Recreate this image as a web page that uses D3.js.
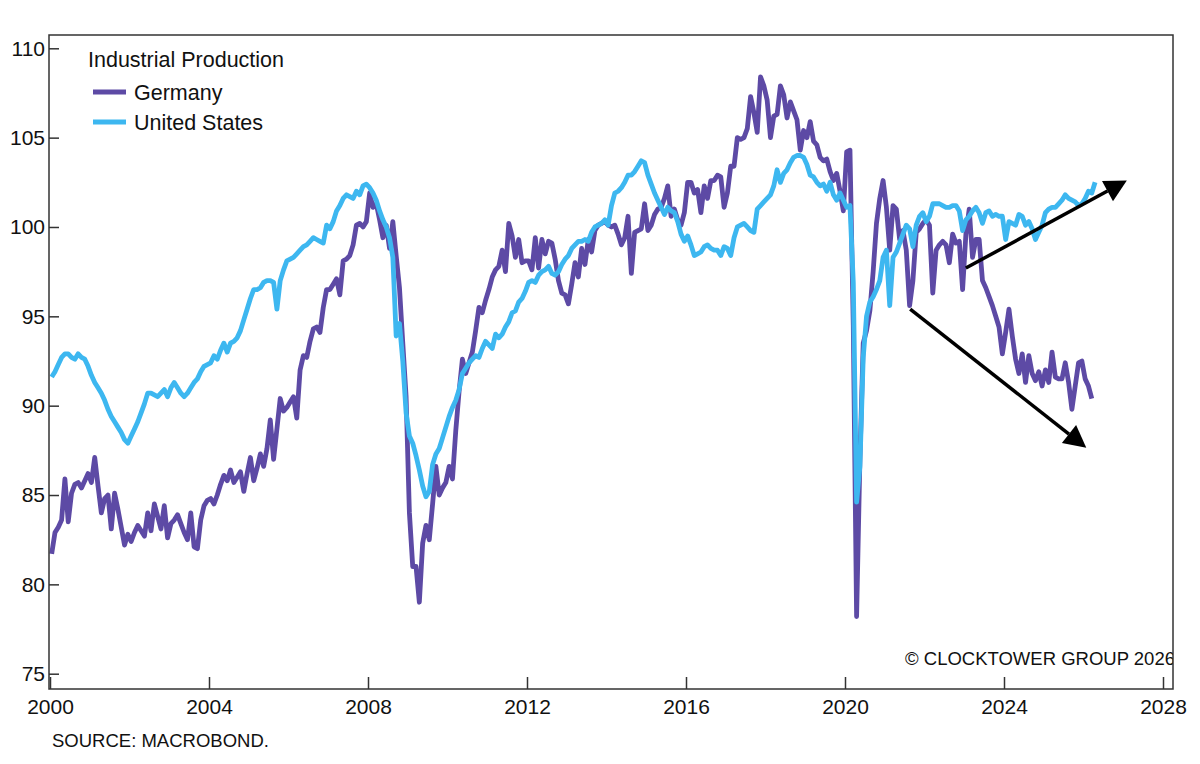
<!DOCTYPE html>
<html>
<head>
<meta charset="utf-8">
<title>Industrial Production</title>
<script src="https://cdn.jsdelivr.net/npm/d3@7"></script>
<style>
    html, body { margin: 0; padding: 0; background: #fff; }
    svg { display: block; font-family: "Liberation Sans", Arial, Helvetica, sans-serif; }
</style>
</head>
<body>
<svg id="chart" width="1200" height="764"></svg>
<script>
// Monthly index values, Jan 2000 onwards (one row per year).
let startYear = 2000;

let germany = [
    81.7, 82.9, 83.2, 83.6, 85.9, 83.5, 85.1, 85.6, 85.7, 85.4, 85.8, 86.2,
    85.7, 87.1, 85.5, 84.0, 84.8, 85.0, 83.1, 85.1, 84.2, 83.2, 82.2, 82.8,
    82.4, 82.9, 83.3, 83.0, 82.7, 84.0, 83.0, 84.5, 83.8, 83.1, 84.4, 82.6,
    83.4, 83.6, 83.9, 83.4, 82.9, 82.5, 84.0, 82.1, 82.0, 83.6, 84.4, 84.7,
    84.8, 84.5, 85.0, 85.6, 86.1, 85.8, 86.4, 85.7, 86.0, 86.3, 85.2, 86.2,
    87.1, 85.8, 86.5, 87.3, 86.6, 87.6, 89.2, 87.0, 88.7, 90.4, 89.7, 89.9,
    90.2, 90.5, 89.3, 92.0, 92.8, 92.7, 93.6, 94.3, 94.4, 94.1, 95.5, 96.5,
    96.5, 96.8, 97.1, 96.2, 98.1, 98.2, 98.4, 99.0, 100.1, 100.2, 100.0, 100.3,
    101.9, 101.1, 101.3, 100.4, 99.4, 100.1, 98.8, 100.3, 98.4, 96.6, 93.5, 90.5,
    84.0, 81.0, 81.0, 79.0, 82.3, 83.3, 82.5, 84.5, 86.6, 85.0, 85.4, 85.7,
    86.6, 85.9, 88.6, 90.8, 92.6, 91.8, 92.4, 93.0, 94.2, 95.5, 95.2, 95.9,
    96.5, 97.2, 97.6, 97.8, 98.7, 97.5, 100.2, 99.5, 98.3, 99.3, 98.0, 98.1,
    98.1, 97.6, 99.4, 97.7, 99.3, 98.5, 99.2, 99.1, 98.2, 97.0, 96.3, 96.2,
    95.7, 96.8, 98.0, 97.2, 98.8, 97.9, 99.3, 98.6, 99.8, 100.1, 100.2, 100.3,
    100.1, 100.0, 100.1, 99.6, 99.0, 99.4, 100.6, 97.4, 99.7, 99.8, 99.9, 101.3,
    99.8, 100.1, 100.7, 101.0, 101.1, 101.6, 102.3, 100.6, 101.0, 100.4, 100.1, 100.8,
    102.5, 102.5, 101.9, 102.1, 100.8, 102.3, 101.6, 102.6, 102.6, 102.9, 102.8, 101.1,
    101.9, 103.4, 103.4, 105.0, 104.9, 105.0, 105.5, 107.3, 106.4, 105.3, 108.4, 107.9,
    107.1, 105.0, 106.2, 106.3, 107.9, 107.4, 106.1, 107.0, 106.5, 106.0, 104.3, 105.4,
    105.0, 105.9, 104.8, 104.6, 103.9, 103.7, 103.8, 103.1, 102.6, 103.0, 102.0, 100.9,
    104.2, 104.3, 94.5, 78.2, 87.0, 93.5, 94.2, 95.3, 97.5, 100.2, 101.6, 102.6,
    101.1, 98.7, 101.2, 101.0, 99.3, 99.8, 98.7, 95.6, 97.0, 99.7, 99.9, 100.2,
    100.4, 100.1, 96.3, 98.7, 99.0, 99.2, 99.0, 98.0, 99.6, 99.1, 99.2, 96.5,
    99.6, 101.0, 98.3, 99.3, 99.3, 97.0, 96.6, 96.1, 95.6, 95.0, 94.4, 92.9,
    94.1, 95.4, 93.9, 92.6, 91.8, 92.9, 91.3, 92.8, 91.8, 91.4, 91.9, 91.1,
    92.0, 91.3, 93.0, 91.6, 91.5, 91.5, 92.4, 91.3, 89.8, 91.1, 92.4, 92.5,
    91.5, 91.1, 90.4
];

let unitedStates = [
    91.6, 91.9, 92.3, 92.7, 92.9, 92.9, 92.7, 92.6, 92.9, 92.7, 92.6, 92.2,
    91.7, 91.3, 91.0, 90.7, 90.3, 89.8, 89.4, 89.1, 88.8, 88.5, 88.1, 87.9,
    88.3, 88.7, 89.1, 89.6, 90.1, 90.7, 90.7, 90.6, 90.5, 90.7, 90.9, 90.5,
    91.0, 91.3, 91.0, 90.7, 90.5, 90.7, 91.0, 91.3, 91.5, 91.9, 92.2, 92.3,
    92.4, 92.8, 92.6, 93.1, 93.5, 93.0, 93.5, 93.6, 93.8, 94.2, 94.8, 95.4,
    96.0, 96.5, 96.5, 96.6, 96.9, 97.0, 97.0, 96.9, 95.4, 97.0, 97.6, 98.1,
    98.2, 98.3, 98.5, 98.7, 98.9, 99.0, 99.2, 99.4, 99.3, 99.2, 99.1, 100.1,
    99.9, 100.3, 100.9, 101.2, 101.6, 101.8, 101.7, 101.6, 102.0, 101.8, 102.3, 102.4,
    102.2, 101.9, 101.5, 100.9, 100.4, 100.0, 99.4, 98.3, 93.9, 94.6, 92.5, 89.6,
    88.3, 87.9, 87.2, 86.4, 85.5, 84.9, 85.2, 86.7, 87.3, 87.6, 88.2, 88.8,
    89.4, 89.9, 90.3, 90.9, 91.8, 92.1, 92.4, 92.6, 92.8, 92.7, 93.2, 93.6,
    93.4, 93.2, 94.0, 93.8, 94.0, 94.4, 94.7, 95.2, 95.3, 95.8, 96.0, 96.4,
    96.9, 97.0, 96.9, 97.3, 97.5, 97.6, 97.8, 97.4, 97.3, 97.5, 97.9, 98.2,
    98.4, 98.8, 99.0, 99.2, 99.2, 99.3, 99.2, 99.7, 100.0, 100.1, 100.2, 100.4,
    100.1, 101.2, 101.9, 102.0, 102.2, 102.5, 102.9, 102.9, 103.1, 103.4, 103.7, 103.6,
    102.9, 102.4, 101.9, 101.5, 101.1, 100.7, 101.1, 100.9, 100.8, 100.3, 99.6, 99.2,
    99.5, 99.0, 98.4, 98.5, 98.6, 98.9, 99.0, 98.8, 98.7, 98.7, 98.4, 98.9,
    98.8, 98.4, 99.4, 100.0, 100.1, 100.2, 100.0, 99.8, 99.7, 101.0, 101.2, 101.4,
    101.6, 101.8, 102.3, 103.2, 102.5, 103.0, 103.2, 103.6, 103.9, 104.0, 104.0, 103.9,
    103.5, 102.9, 102.8, 102.5, 102.3, 102.4, 102.0, 102.5, 101.8, 101.5, 101.9, 101.5,
    101.1, 101.2, 96.9, 84.6, 86.6, 92.7, 95.0, 95.8, 96.1, 96.5, 97.0, 98.3,
    98.7, 95.6, 98.3, 98.6, 99.1, 99.6, 100.1, 99.9, 98.9, 100.1, 100.6, 100.8,
    100.3, 100.6, 101.3, 101.3, 101.3, 101.2, 101.1, 101.1, 101.2, 101.2, 100.9, 99.8,
    100.4, 100.6, 100.9, 101.1, 100.8, 100.2, 100.8, 100.9, 100.6, 100.7, 100.6, 100.6,
    99.3, 100.3, 100.2, 100.1, 100.7, 100.6, 100.1, 100.3, 99.9, 99.3, 99.7, 100.1,
    100.8, 101.0, 101.1, 101.1, 101.3, 101.5, 101.8, 101.6, 101.5, 101.4, 101.2, 101.3,
    101.6, 102.0, 101.9, 102.5
];

let seriesNames = ["Germany", "United States"];
let seriesColors = ["#5d4aa5", "#3db7f0"];

let xTicks = [2000, 2004, 2008, 2012, 2016, 2020, 2024, 2028];
let yTicks = [75, 80, 85, 90, 95, 100, 105, 110];

// Annotation arrows: [year, index] start and tip.
let arrows = [
    { from: [2023.04, 97.7], to: [2027.09, 102.6] },
    { from: [2021.64, 95.4], to: [2026.07, 87.65] }
];

let legendTitle = "Industrial Production";
let copyright = "\u00A9 CLOCKTOWER GROUP 2026";
let source = "SOURCE: MACROBOND.";

let box = { left: 49, right: 1173, top: 35, bottom: 689 };
let textColor = "#111";
let frameColor = "#333";

let svg = d3.select("#chart");

let x = d3.scaleLinear().domain([2000, 2028]).range([50, 1163]);
let y = d3.scaleLinear().domain([75, 110]).range([673.7, 48.3]);


function toPoints(values) {
    // Monthly observations are plotted at mid-month.
    return values.map((v, i) => ({ t: startYear + (i + 0.5) / 12, v: v }));
}


function drawAxes() {
    let yAxis = svg.append("g")
        .attr("transform", `translate(${box.left},0)`)
        .call(d3.axisLeft(y).tickValues(yTicks).tickSizeInner(-10).tickSizeOuter(0).tickPadding(4));
    let xAxis = svg.append("g")
        .attr("transform", `translate(0,${box.bottom})`)
        .call(d3.axisBottom(x).tickValues(xTicks).tickFormat(d3.format("d"))
            .tickSizeInner(-12).tickSizeOuter(0).tickPadding(10));

    [yAxis, xAxis].forEach(g => {
        g.attr("font-family", null).attr("font-size", 21);
        g.select(".domain").remove();
        g.selectAll(".tick line").attr("stroke", frameColor).attr("stroke-width", 1.5);
        g.selectAll(".tick text").attr("fill", textColor);
    });

    svg.append("rect")
        .attr("x", box.left)
        .attr("y", box.top)
        .attr("width", box.right - box.left)
        .attr("height", box.bottom - box.top)
        .attr("fill", "none")
        .attr("stroke", frameColor)
        .attr("stroke-width", 1.5);
}


function drawLines(plot) {
    let line = d3.line()
        .x(d => x(d.t))
        .y(d => y(d.v));

    [germany, unitedStates].forEach((values, i) => {
        plot.append("path")
            .datum(toPoints(values))
            .attr("fill", "none")
            .attr("stroke", seriesColors[i])
            .attr("stroke-width", 4.8)
            .attr("stroke-linejoin", "round")
            .attr("d", line);
    });
}


function drawArrows(plot) {
    let headLength = 22;
    let headWidth = 23;
    arrows.forEach(a => {
        let x0 = x(a.from[0]), y0 = y(a.from[1]);
        let x1 = x(a.to[0]), y1 = y(a.to[1]);
        let len = Math.hypot(x1 - x0, y1 - y0);
        let ux = (x1 - x0) / len, uy = (y1 - y0) / len;
        let bx = x1 - ux * headLength, by = y1 - uy * headLength;
        let nx = -uy * headWidth / 2, ny = ux * headWidth / 2;

        plot.append("line")
            .attr("x1", x0).attr("y1", y0)
            .attr("x2", bx).attr("y2", by)
            .attr("stroke", "#000")
            .attr("stroke-width", 3.5);
        plot.append("polygon")
            .attr("points", [[x1, y1], [bx + nx, by + ny], [bx - nx, by - ny]].map(p => p.join(",")).join(" "))
            .attr("fill", "#000");
    });
}


function drawLegend() {
    let legend = svg.append("g").attr("font-size", 21.5).attr("fill", textColor);
    legend.append("text")
        .attr("x", 88)
        .attr("y", 67)
        .text(legendTitle);
    seriesNames.forEach((name, i) => {
        let cy = 92 + i * 30;
        legend.append("line")
            .attr("x1", 93).attr("x2", 126)
            .attr("y1", cy).attr("y2", cy)
            .attr("stroke", seriesColors[i])
            .attr("stroke-width", 4.8);
        legend.append("text")
            .attr("x", 134)
            .attr("y", cy + 8)
            .text(name);
    });
}


function drawNotes(plot) {
    plot.append("text")
        .attr("x", 905)
        .attr("y", 665)
        .attr("font-size", 18.5)
        .attr("fill", textColor)
        .text(copyright);
    svg.append("text")
        .attr("x", 52)
        .attr("y", 747)
        .attr("font-size", 18.5)
        .attr("fill", textColor)
        .text(source);
}


svg.append("defs").append("clipPath")
    .attr("id", "plot-clip")
    .append("rect")
    .attr("x", box.left)
    .attr("y", box.top)
    .attr("width", box.right - box.left)
    .attr("height", box.bottom - box.top);

let plot = svg.append("g").attr("clip-path", "url(#plot-clip)");

drawLines(plot);
drawArrows(plot);
drawNotes(plot);
drawAxes();
drawLegend();
</script>
</body>
</html>
